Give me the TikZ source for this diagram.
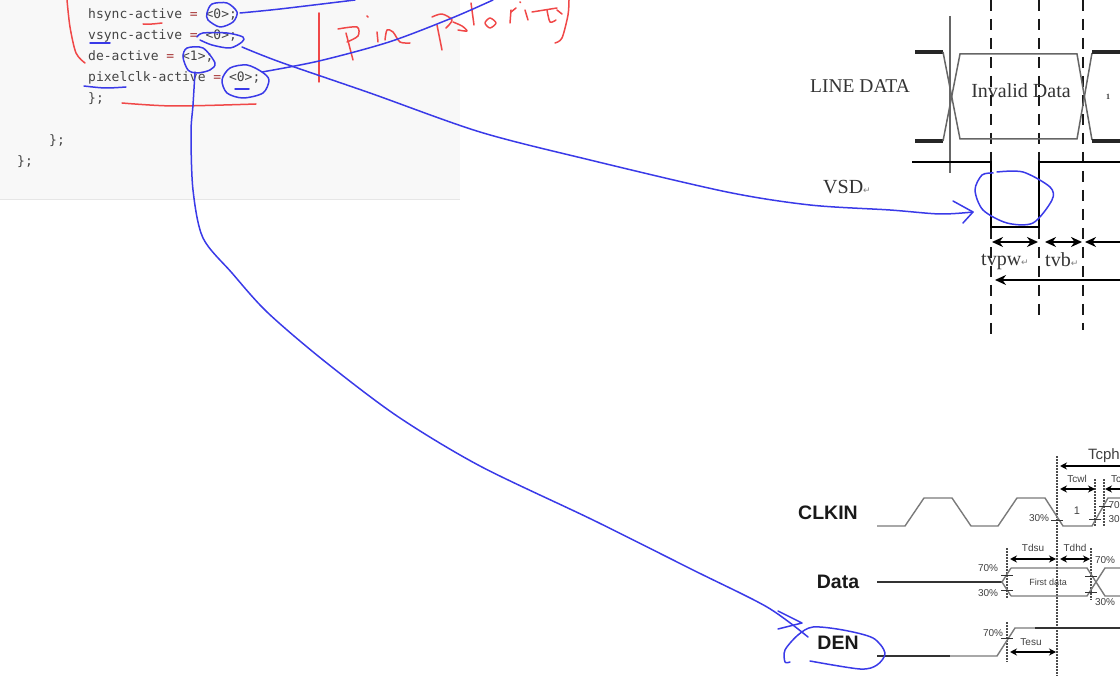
\documentclass[tikz,border=0pt]{standalone}
\usepackage{fontspec}
\setmainfont{Liberation Serif}
\setsansfont{Liberation Sans}
\newfontfamily\codefont{DejaVu Sans Mono}
\newfontfamily\symbfont{DejaVu Sans}
\usepackage{tikz}
\usetikzlibrary{arrows.meta}
\pgfdeclarelayer{nodelayer}
\pgfdeclarelayer{edgelayer}
\pgfsetlayers{edgelayer,nodelayer,main}
\definecolor{codegray}{HTML}{F8F8F8}
\definecolor{coderule}{HTML}{E6E6E6}
\definecolor{codetext}{HTML}{444444}
\definecolor{codeeq}{HTML}{A83A3A}
\definecolor{penblue}{HTML}{3A3AE8}
\definecolor{penred}{HTML}{F04848}
\definecolor{wavegray}{HTML}{7A7A7A}
\newcommand{\retmark}{{\symbfont\fontsize{9}{9}\selectfont\color{gray}↵}}
\newcommand{\eqmark}{{\color{codeeq}=}}
\tikzstyle{code}=[anchor=base west, inner sep=0pt, text=codetext, font=\codefont\fontsize{13}{15}\selectfont]
\tikzstyle{serif label}=[inner sep=0pt, text=black!80, font=\rmfamily\fontsize{20}{22}\selectfont]
\tikzstyle{signal}=[inner sep=0pt, text=black!90, font=\sffamily\bfseries\fontsize{19.5}{22}\selectfont]
\tikzstyle{small label}=[inner sep=0pt, text=black!75, font=\sffamily\fontsize{10}{12}\selectfont]
\tikzstyle{blue pen}=[draw=penblue, line width=1.5pt, line cap=round, line join=round]
\tikzstyle{red pen}=[draw=penred, line width=1.5pt, line cap=round, line join=round]
\tikzstyle{thick wave}=[draw=black!85, line width=3.5pt]
\tikzstyle{thin wave}=[draw=black!60, line width=1.5pt]
\tikzstyle{gray wave}=[draw=wavegray, line width=1.4pt]
\tikzstyle{dark wave}=[draw=black!80, line width=1.4pt]
\tikzstyle{dash line}=[draw=black!90, line width=2.2pt, dash pattern=on 11pt off 8pt]
\tikzstyle{dot line}=[draw=black!70, line width=1.2pt, dash pattern=on 1.5pt off 1.5pt]
\tikzstyle{big span}=[{Stealth[length=11pt,width=10pt]}-{Stealth[length=11pt,width=10pt]}, line width=2.2pt]
\tikzstyle{big left}=[{Stealth[length=11pt,width=10pt]}-, line width=2.2pt]
\tikzstyle{small span}=[{Stealth[length=7pt,width=7pt]}-{Stealth[length=7pt,width=7pt]}, line width=1.2pt]
\tikzstyle{small left}=[{Stealth[length=7pt,width=7pt]}-, line width=1.2pt]
\tikzstyle{tick mark}=[draw=black!80, line width=1pt]

\begin{document}
\begin{tikzpicture}[x=1pt, y=-1pt]
    	\useasboundingbox (0, 0) rectangle (1120, 676);
    	\begin{pgfonlayer}{edgelayer}
    		\fill [codegray] (0, 0) rectangle (460, 199);
    		\draw [coderule] (0, 199) -- (460, 199);
    		% frame timing
    		\draw [style=thin wave] (950, 16) -- (950, 173);
    		\foreach \dx/\dy in {991/335, 1039/322, 1083/330}
    			\draw [style=dash line] (\dx, 0) -- (\dx, \dy);
    		\draw [style=thick wave] (915, 52) -- (943, 52);
    		\draw [style=thick wave] (915, 141) -- (943, 141);
    		\draw [style=thin wave] (943, 52) -- (960, 139) -- (1077, 139) -- (1092, 53);
    		\draw [style=thin wave] (943, 141) -- (960, 54) -- (1077, 54) -- (1092, 140);
    		\draw [style=thick wave] (1092, 52) -- (1120, 52);
    		\draw [style=thick wave] (1092, 141) -- (1120, 141);
    		\draw [draw=black, line width=2.8pt] (912, 162) -- (991, 162) -- (991, 227) -- (1039, 227) -- (1039, 162) -- (1120, 162);
    		\draw [style=big span] (992, 242) -- (1038, 242);
    		\draw [style=big span] (1045, 242) -- (1082, 242);
    		\draw [style=big left] (1085, 242) -- (1120, 242);
    		\draw [style=big left] (995, 280) -- (1120, 280);
    		% clock timing
    		\foreach \dx/\dt/\db in {1057/456/676, 1095/479/526, 1104/479/527, 1007/548/598, 1007/622/662, 1091/548/600}
    			\draw [style=dot line] (\dx, \dt) -- (\dx, \db);
    		\draw [style=gray wave] (877, 526) -- (905, 526) -- (924, 498) -- (952, 498) -- (971, 526) -- (998, 526) -- (1017, 498) -- (1045, 498) -- (1063, 526) -- (1092, 526) -- (1108, 498) -- (1120, 498);
    		\draw [style=dark wave] (877, 582) -- (1002, 582);
    		\draw [style=gray wave] (1011, 568) -- (1002, 582) -- (1011, 596);
    		\draw [style=gray wave] (1011, 568) -- (1087, 568) -- (1105, 596) -- (1120, 596);
    		\draw [style=gray wave] (1011, 596) -- (1087, 596) -- (1105, 568) -- (1120, 568);
    		\draw [style=dark wave] (877, 656) -- (950, 656);
    		\draw [style=gray wave] (950, 656) -- (997, 656) -- (1015, 628) -- (1035, 628);
    		\draw [style=dark wave] (1035, 628) -- (1120, 628);
    		\foreach \tx/\ty in {1057/520, 1095/519, 1105/506, 1007/575, 1007/590, 1091/576, 1091/592, 1007/638}
    			\draw [style=tick mark] (\tx-6, \ty) -- (\tx+6, \ty);
    		\draw [style=small left] (1060, 466) -- (1120, 466);
    		\draw [style=small span] (1060, 489) -- (1095, 489);
    		\draw [style=small left] (1105, 489) -- (1120, 489);
    		\draw [style=small span] (1010, 559) -- (1056, 559);
    		\draw [style=small span] (1060, 559) -- (1090, 559);
    		\draw [style=small span] (1010, 652) -- (1056, 652);
    	\end{pgfonlayer}
    	\begin{pgfonlayer}{nodelayer}
    		\node [style=code] (hsyncline) at (88, 19) {hsync-active \eqmark{} <0>;};
    		\node [style=code] (vsyncline) at (88, 40) {vsync-active \eqmark{} <0>;};
    		\node [style=code] (deline) at (88, 61) {de-active \eqmark{} <1>;};
    		\node [style=code] (pixelline) at (88, 82) {pixelclk-active \eqmark{} <0>;};
    		\node [style=code] (closeone) at (88, 102.5) {\};};
    		\node [style=code] (closetwo) at (49, 144.5) {\};};
    		\node [style=code] (closethree) at (17, 165.5) {\};};
    		\node [style=serif label, font=\rmfamily\fontsize{19.5}{20}\selectfont] (linedata) at (860, 86) {LINE DATA};
    		\node [style=serif label] (invalid) at (1021, 91) {Invalid Data};
    		\node [style=serif label, font=\rmfamily\bfseries\fontsize{8}{9}\selectfont] (lineone) at (1108, 97) {1};
    		\node [style=serif label, anchor=west] (vsd) at (823, 187) {VSD\retmark};
    		\node [style=serif label, anchor=west] (tvpw) at (981, 262) {tvpw\retmark};
    		\node [style=serif label, anchor=west] (tvb) at (1045, 260) {tvb\retmark};
    		\node [style=signal] (clkin) at (828, 513) {CLKIN};
    		\node [style=signal] (data) at (838, 582) {Data};
    		\node [style=signal] (den) at (838, 643) {DEN};
    		\node [style=small label, anchor=east, font=\sffamily\fontsize{15}{17}\selectfont] (tcph) at (1120, 456) {Tcph};
    		\node [style=small label] (tcwl) at (1077, 479) {Tcwl};
    		\node [style=small label, anchor=west] (tcwh) at (1111, 479) {Tc};
    		\node [style=small label, font=\sffamily\fontsize{11}{12}\selectfont] (lowone) at (1077, 511) {1};
    		\node [style=small label] (clklow) at (1039, 518) {30\%};
    		\node [style=small label, anchor=east] (clkhigh) at (1120, 505) {70};
    		\node [style=small label, anchor=east] (clklow2) at (1120, 519) {30};
    		\node [style=small label] (tdsu) at (1033, 548) {Tdsu};
    		\node [style=small label] (tdhd) at (1075, 548) {Tdhd};
    		\node [style=small label] (datahigh) at (988, 568) {70\%};
    		\node [style=small label] (datalow) at (988, 593) {30\%};
    		\node [style=small label, font=\sffamily\fontsize{9}{10}\selectfont] (firstdata) at (1048, 582) {First data};
    		\node [style=small label] (datahigh2) at (1105, 560) {70\%};
    		\node [style=small label] (datalow2) at (1105, 602) {30\%};
    		\node [style=small label] (denhigh) at (993, 633) {70\%};
    		\node [style=small label] (tesu) at (1031, 642) {Tesu};
    	\end{pgfonlayer}
    	% hand marks, red
    	\draw [style=red pen] plot [smooth] coordinates {(67, 0) (70, 27) (76, 53) (85, 63)};
    	\draw [style=red pen] plot [smooth] coordinates {(143, 24) (152, 24) (162, 23)};
    	\draw [style=red pen] plot [smooth] coordinates {(122, 103) (174, 106) (256, 104)};
    	\draw [style=red pen] (319, 13) -- (319, 82);
    	\draw [style=red pen] plot [smooth] coordinates {(338, 29) (357, 27) (358, 36) (347, 42)};
    	\draw [style=red pen] (346, 33) -- (353, 60);
    	\draw [style=red pen] (367, 16) -- (368, 17);
    	\draw [style=red pen] (377, 32) -- (378, 42);
    	\draw [style=red pen] plot [smooth] coordinates {(385, 40) (387, 30) (393, 32) (400, 42) (410, 43)};
    	\draw [style=red pen] (437, 25) -- (442, 50);
    	\draw [style=red pen] plot [smooth] coordinates {(432, 17) (442, 14) (452, 20) (446, 28)};
    	\draw [style=red pen] plot [smooth] coordinates {(453, 22) (462, 26) (467, 31) (458, 30)};
    	\draw [style=red pen] (471, 3) -- (474, 25);
    	\draw [style=red pen] plot [smooth cycle] coordinates {(485, 23) (490, 18) (496, 23) (490, 28)};
    	\draw [style=red pen] (510, 23) -- (511, 10);
    	\draw [style=red pen] (511, 12) -- (516, 8);
    	\draw [style=red pen] (520, 2) -- (520.5, 2.5);
    	\draw [style=red pen] (525, 10) -- (528, 20);
    	\draw [style=red pen] (532, 12) -- (557, 8);
    	\draw [style=red pen] plot [smooth] coordinates {(547, 10) (550, 22) (556, 20)};
    	\draw [style=red pen] (557, 10) -- (562, 14);
    	\draw [style=red pen] plot [smooth] coordinates {(569, 0) (568, 15) (562, 38) (555, 43)};
    	% hand marks, blue
    	\draw [style=blue pen] (90, 43) -- (110, 43);
    	\draw [style=blue pen] plot [smooth] coordinates {(84, 86) (105, 88) (126, 87)};
    	\draw [style=blue pen] (235, 89) -- (249, 89);
    	\coordinate (hsyncend) at (240, 13);
    	\coordinate (hsyncfree) at (355, 0);
    	\coordinate (vsyncend) at (242, 47);
    	\coordinate (vsdtip) at (973, 212);
    	\coordinate (deend) at (195, 72);
    	\coordinate (dentip) at (808, 637);
    	\coordinate (pixelend) at (262, 72);
    	\coordinate (pixelfree) at (493, 0);
    	\draw [style=blue pen] plot [smooth cycle] coordinates {(212, 4) (227, 3) (237, 12) (233, 22) (220, 27) (208, 20) (207, 13)};
    	\draw [style=blue pen] plot [smooth] coordinates {(197, 37) (203, 33) (227, 33) (243, 37) (242, 42) (230, 48) (212, 45) (200, 40)};
    	\draw [style=blue pen] plot [smooth cycle] coordinates {(187, 48) (203, 48) (215, 63) (210, 70) (197, 73) (188, 70) (183, 57)};
    	\draw [style=blue pen] plot [smooth cycle] coordinates {(262, 72) (247, 65) (230, 68) (222, 80) (227, 93) (243, 98) (263, 93) (269, 80)};
    	\draw [style=blue pen] plot [smooth] coordinates {(997, 172) (1023, 172) (1050, 187) (1052, 200) (1033, 223) (1007, 223) (983, 210) (975, 190) (982, 175) (993, 173)};
    	\draw [style=blue pen] plot [smooth] coordinates {(790, 662) (785, 662) (785, 650) (798, 635) (813, 627) (843, 630) (873, 638) (885, 653) (877, 665) (860, 669) (810, 661)};
    	\draw [style=blue pen] plot [smooth] coordinates {(hsyncend) (280, 9) (hsyncfree)};
    	\draw [style=blue pen] plot [smooth] coordinates {(pixelend) (319, 61) (389, 42) (452, 18) (pixelfree)};
    	\draw [style=blue pen] plot [smooth] coordinates {(vsyncend) (280, 62) (370, 93) (480, 132) (590, 160) (727, 192) (810, 205) (890, 210) (940, 214) (vsdtip)};
    	\draw [style=blue pen] (953, 201) -- (vsdtip) -- (963, 223);
    	\draw [style=blue pen] plot [smooth] coordinates {(deend) (193, 105) (191, 133) (193, 190) (203, 238) (232, 273) (267, 312) (323, 360) (397, 416) (480, 466) (593, 520) (693, 570) (767, 607) (dentip)};
    	\draw [style=blue pen] (778, 611) -- (802, 623) -- (778, 629);
\end{tikzpicture}
\end{document}
